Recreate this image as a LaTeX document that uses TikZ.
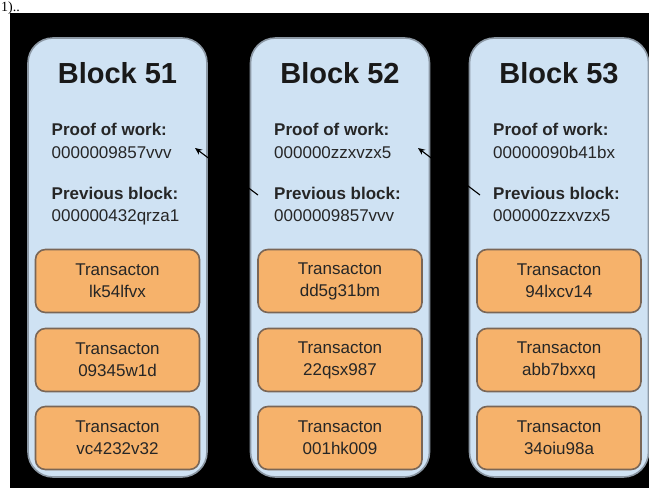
\documentclass[tikz,border=0pt]{standalone}
\usepackage{fontspec}
\setmainfont{Liberation Sans}
\newfontfamily\serifont{Liberation Serif}
\usetikzlibrary{arrows.meta}
\definecolor{blockfill}{HTML}{CFE2F3}
\definecolor{blockline}{HTML}{8C98A4}
\definecolor{txfill}{HTML}{F6B26B}
\definecolor{txline}{HTML}{7A6656}
\definecolor{txt}{HTML}{262626}
\tikzset{
  blockbox/.style={draw=blockline, fill=blockfill, line width=1.6pt, rounded corners=25pt,
    minimum width=179pt, minimum height=439pt, inner sep=0pt},
  txbox/.style={draw=txline, fill=txfill, line width=1.6pt, rounded corners=10pt,
    minimum width=164pt, minimum height=63pt, inner sep=0pt, align=center,
    text=txt, font=\fontsize{17}{22}\selectfont},
  title/.style={anchor=base, inner sep=0pt, text=black!90, font=\bfseries\fontsize{29}{29}\selectfont},
  lbl/.style={anchor=base west, inner sep=0pt, text=txt, font=\bfseries\fontsize{17}{17}\selectfont},
  val/.style={anchor=base west, inner sep=0pt, text=txt, font=\fontsize{17}{17}\selectfont},
  link/.style={draw=black, line width=1.1pt, -{Stealth[length=7pt,width=6pt]}}
}
\begin{document}
\begin{tikzpicture}[x=1pt,y=-1pt]
\useasboundingbox (0,0) rectangle (649,488);
\fill[white] (0,0) rectangle (649,488);
\fill[black] (10,13) rectangle (649,488);
\node[anchor=base west, inner sep=0pt, font=\serifont\fontsize{14}{14}\selectfont] (hdr) at (1,11.5) {1)..};

% blocks
\foreach \n/\cx/\pw/\pb/\ta/\tb/\tc in {
  51/117.5/0000009857vvv/000000432qrza1/lk54lfvx/09345w1d/vc4232v32,
  52/340/000000zzxvzx5/0000009857vvv/dd5g31bm/22qsx987/001hk009,
  53/559/00000090b41bx/000000zzxvzx5/94lxcv14/abb7bxxq/34oiu98a}{
  \node[blockbox] (b\n) at (\cx,257.5) {};
  \node[title] (t\n) at (\cx,83) {Block \n};
  \node[lbl] (pwl\n) at (\cx-66,135) {Proof of work:};
  \node[val] (pwv\n) at (\cx-66,158) {\pw};
  \node[lbl] (pbl\n) at (\cx-66,199) {Previous block:};
  \node[val] (pbv\n) at (\cx-66,221) {\pb};
  \node[txbox] (x1\n) at (\cx,281) {Transacton\\\ta};
  \node[txbox] (x2\n) at (\cx,360) {Transacton\\\tb};
  \node[txbox] (x3\n) at (\cx,438) {Transacton\\\tc};
}

% links (the middle part lies on the black background)
\coordinate (tail52) at (258,195);
\coordinate (head51) at (195,148);
\coordinate (tail53) at (480,195);
\coordinate (head52) at (418,148);
\draw[link] (tail52) -- (head51);
\draw[link] (tail53) -- (head52);
\end{tikzpicture}
\end{document}
